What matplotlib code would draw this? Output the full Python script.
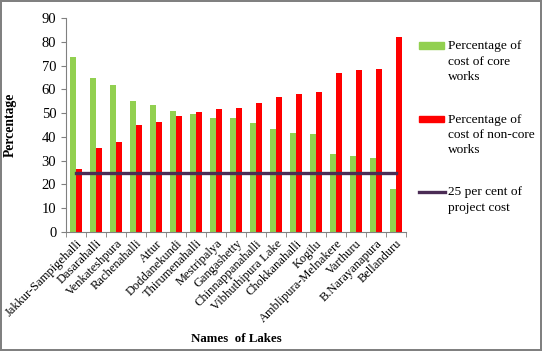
import numpy as np
import matplotlib.pyplot as plt
from matplotlib.patches import Rectangle
from matplotlib.lines import Line2D

# Data
lakes = ['Jakkur-Sampigehalli', 'Dasarahalli', 'Venkateshpura', 'Rachenahalli',
         'Attur', 'Doddanekundi', 'Thirumenahalli', 'Mestripalya', 'Gangashetty',
         'Chinnappanahalli', 'Vibhuthipura Lake', 'Chokkanahalli', 'Kogilu',
         'Amblipura-Melnakere', 'Varthuru', 'B.Narayanapura', 'Bellanduru']
core = [73.6, 64.8, 61.8, 55.1, 53.4, 50.9, 49.6, 47.9, 47.9, 45.8,
        43.3, 41.6, 41.2, 32.8, 32.0, 31.1, 18.1]
noncore = [26.5, 35.3, 37.9, 45.0, 46.3, 48.8, 50.5, 51.7, 52.2, 54.3,
           56.8, 58.0, 58.9, 66.9, 68.1, 68.6, 82.0]
threshold = [25] * len(lakes)

GREEN, RED, PURPLE = '#92D050', '#FF0000', '#4B2C55'

plt.rcParams['font.family'] = ['Liberation Serif', 'DejaVu Serif']
plt.rcParams['font.size'] = 9

W, H = 542, 351
fig = plt.figure(figsize=(W / 100, H / 100), dpi=100)
fig.patch.set_edgecolor('#808080')
fig.patch.set_linewidth(1.5)
ax = fig.add_axes([0.1218, 0.339, 0.627, 0.6097])

x = np.arange(len(lakes))
w = 0.3
ax.bar(x - w / 2, core, w, color=GREEN)
ax.bar(x + w / 2, noncore, w, color=RED)
ax.plot(x, threshold, color=PURPLE, lw=2.4)

ax.set_xlim(-0.5, len(lakes) - 0.5)
ax.set_ylim(0, 90)
ax.set_yticks(range(0, 91, 10))
ax.set_xticks(x)
ax.set_xticklabels(lakes, rotation=45, ha='right', rotation_mode='anchor')
ax.set_xticks(np.arange(-0.5, len(lakes)), minor=True)
ax.tick_params(axis='x', which='major', length=0, pad=4, labelsize=9)
ax.tick_params(axis='x', which='minor', length=3.5, color='#808080')
ax.tick_params(axis='y', length=3.5, color='#808080', labelsize=10.5)

for s in ['top', 'right']:
    ax.spines[s].set_visible(False)
for s in ['left', 'bottom']:
    ax.spines[s].set_color('#808080')

fig.text(10 / W, 1 - 125 / H, 'Percentage', fontweight='bold', fontsize=9.8,
         rotation=90, ha='center', va='center')
fig.text(236 / W, 1 - 339 / H, 'Names  of Lakes', fontweight='bold',
         fontsize=9.3, ha='center', va='center')

# legend, drawn by hand so the key sits level with the first text line
entries = [
    (['Percentage of', 'cost of core', 'works'], [46, 62, 77], 'patch', GREEN),
    (['Percentage of', 'cost of non-core', 'works'], [120, 135, 150], 'patch', RED),
    (['25 per cent of', 'project cost'], [192, 208], 'line', PURPLE),
]
for lines, ys, kind, col in entries:
    yk = ys[0] - 0.5
    if kind == 'patch':
        fig.patches.append(Rectangle((419 / W, 1 - (yk + 3) / H), 25 / W, 6 / H,
                                     transform=fig.transFigure, color=col))
    else:
        fig.lines.append(Line2D([419 / W, 445 / W], [1 - yk / H] * 2,
                                transform=fig.transFigure, color=col, lw=2.4))
    for t, yy in zip(lines, ys):
        fig.text(448 / W, 1 - yy / H, t, fontsize=9.6, ha='left', va='center')

fig.savefig('out.png', dpi=100)
